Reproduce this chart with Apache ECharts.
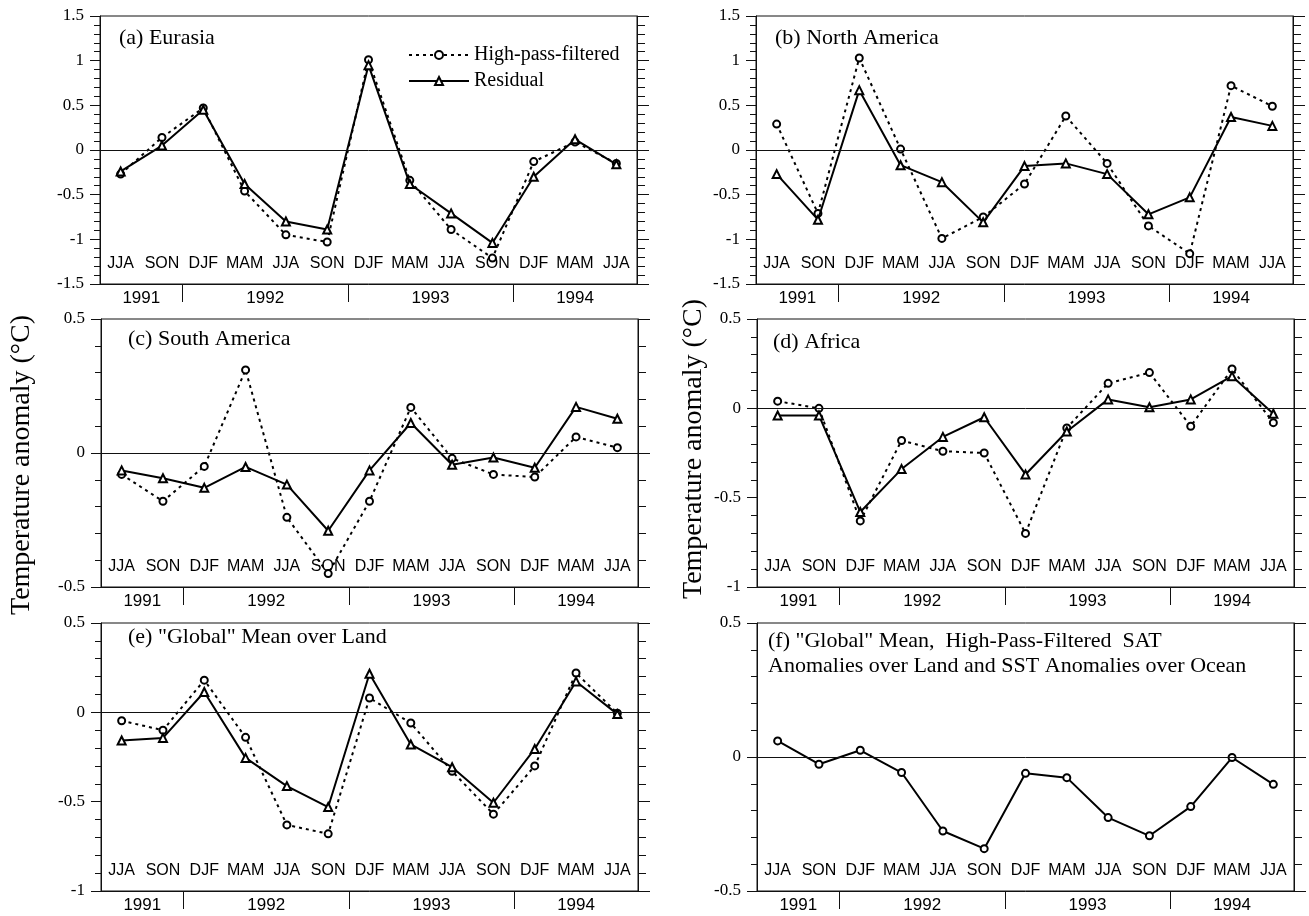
<!DOCTYPE html>
<html><head><meta charset="utf-8">
<script src="https://cdn.jsdelivr.net/npm/echarts@6/dist/echarts.min.js"></script>
<style>html,body{margin:0;padding:0;background:#fff}#c{width:1309px;height:916px}</style>
</head><body><div id="c"></div>
<script>
// ---- data ----
const seasons = ['JJA','SON','DJF','MAM','JJA','SON','DJF','MAM','JJA','SON','DJF','MAM','JJA'];
const years = ['1991','1992','1993','1994'];
const yearBounds = [1.5, 5.5, 9.5];   // season-index boundaries between years
const seriesNames = ['High-pass-filtered','Residual'];

const eurasiaHP  = [-0.27, 0.14, 0.47, -0.46, -0.95, -1.03, 1.01, -0.34, -0.89, -1.21, -0.13, 0.09, -0.15];
const eurasiaRes = [-0.24, 0.05, 0.45, -0.38, -0.80, -0.89, 0.95, -0.38, -0.71, -1.04, -0.30, 0.12, -0.16];

const namerHP  = [0.29, -0.71, 1.03, 0.01, -0.99, -0.75, -0.38, 0.38, -0.15, -0.85, -1.16, 0.72, 0.49];
const namerRes = [-0.27, -0.78, 0.67, -0.17, -0.36, -0.81, -0.18, -0.15, -0.27, -0.72, -0.53, 0.37, 0.27];

const samerHP  = [-0.08, -0.18, -0.05, 0.31, -0.24, -0.45, -0.18, 0.17, -0.02, -0.08, -0.09, 0.06, 0.02];
const samerRes = [-0.065, -0.094, -0.13, -0.052, -0.118, -0.29, -0.065, 0.112, -0.044, -0.017, -0.055, 0.172, 0.128];

const africaHP  = [0.04, 0.0, -0.63, -0.18, -0.24, -0.25, -0.70, -0.11, 0.14, 0.20, -0.10, 0.22, -0.08];
const africaRes = [-0.04, -0.04, -0.58, -0.34, -0.16, -0.05, -0.37, -0.13, 0.05, 0.006, 0.05, 0.18, -0.03];

const landHP  = [-0.047, -0.10, 0.18, -0.14, -0.63, -0.68, 0.08, -0.06, -0.33, -0.57, -0.30, 0.22, -0.005];
const landRes = [-0.158, -0.143, 0.114, -0.255, -0.413, -0.53, 0.216, -0.18, -0.307, -0.506, -0.205, 0.173, -0.01];

const globalSST = [0.06, -0.027, 0.025, -0.058, -0.276, -0.342, -0.061, -0.077, -0.226, -0.294, -0.185, -0.002, -0.102];

const titles = ['(a) Eurasia', '(b) North America', '(c) South America', '(d) Africa',
  '(e) "Global" Mean over Land',
  '(f) "Global" Mean,  High-Pass-Filtered  SAT\nAnomalies over Land and SST Anomalies over Ocean'];
const yAxisTitle = 'Temperature anomaly (°C)';

// ---- layout ----
const SERIF = '"Liberation Serif","DejaVu Serif",serif';
const SANS = '"Liberation Sans",Arial,sans-serif';
const W = 537, H = 268;
const panels = [
  {hp: eurasiaHP, res: eurasiaRes, min: -1.5, max: 1.5, left: 100, top: 16, tx: 119, ty: 26},
  {hp: namerHP, res: namerRes, min: -1.5, max: 1.5, left: 756, top: 16, tx: 775, ty: 26},
  {hp: samerHP, res: samerRes, min: -0.5, max: 0.5, left: 101, top: 319, tx: 128, ty: 327},
  {hp: africaHP, res: africaRes, min: -1, max: 0.5, left: 757, top: 319, tx: 773, ty: 330},
  {hp: landHP, res: landRes, min: -1, max: 0.5, left: 101, top: 623, tx: 128, ty: 625},
  {single: globalSST, min: -0.5, max: 0.5, left: 757, top: 623, tx: 768, ty: 629}
];

const yearEdges = [-0.5].concat(yearBounds, [12.5]);
const yearPos = years.map((y, i) => (yearEdges[i] + yearEdges[i + 1]) / 2);

const grid = [], xAxis = [], yAxis = [], series = [], title = [];
panels.forEach((p, i) => {
  grid.push({left: p.left, top: p.top, width: W, height: H, show: true,
    borderColor: '#111', borderWidth: 1, backgroundColor: 'transparent'});
  xAxis.push({gridIndex: i, type: 'category', data: seasons, boundaryGap: true, position: 'bottom',
    axisLine: {onZero: false, lineStyle: {color: '#111', width: 1}},
    axisTick: {inside: true, alignWithLabel: true, length: 10, interval: 0, lineStyle: {color: '#111'}},
    axisLabel: {inside: true, interval: 0, margin: 12, color: '#000', fontFamily: SANS, fontSize: 16},
    splitLine: {show: false}});
  xAxis.push({gridIndex: i, type: 'value', min: -0.5, max: 12.5, position: 'bottom',
    axisLine: {show: false, onZero: false},
    axisTick: {show: true, customValues: yearBounds, length: 18, lineStyle: {color: '#111'}},
    axisLabel: {show: true, customValues: yearPos, margin: 6, color: '#000', fontFamily: SANS, fontSize: 17,
      formatter: v => { const k = yearPos.findIndex(q => Math.abs(q - v) < 1e-6); return k >= 0 ? years[k] : ''; }},
    splitLine: {show: false}});
  yAxis.push({gridIndex: i, type: 'value', min: p.min, max: p.max, interval: 0.5, position: 'left',
    axisLine: {show: true, onZero: false, lineStyle: {color: '#111'}},
    axisTick: {show: true, length: 10, lineStyle: {color: '#111'}},
    minorTick: {show: true, splitNumber: 5, length: 6, lineStyle: {color: '#111'}},
    axisLabel: {color: '#000', fontFamily: SERIF, fontSize: 17, margin: 16},
    splitLine: {show: false}});
  yAxis.push({gridIndex: i, type: 'value', min: p.min, max: p.max, interval: 0.5, position: 'right',
    axisLine: {show: true, onZero: false, lineStyle: {color: '#111'}},
    axisTick: {show: true, length: 12, lineStyle: {color: '#111'}},
    minorTick: {show: true, splitNumber: 5, length: 8, lineStyle: {color: '#111'}},
    axisLabel: {show: false}, splitLine: {show: false}});
  const zero = {silent: true, symbol: 'none', label: {show: false},
    lineStyle: {color: '#111', width: 1, type: 'solid'}, data: [{yAxis: 0}]};
  if (p.single) {
    series.push({type: 'line', name: 'Global', xAxisIndex: 2 * i, yAxisIndex: 2 * i, data: p.single,
      symbol: 'emptyCircle', symbolSize: 7, lineStyle: {color: '#000', width: 2},
      itemStyle: {color: '#000', borderWidth: 1}, markLine: zero, z: 3});
  } else {
    series.push({type: 'line', name: seriesNames[0], xAxisIndex: 2 * i, yAxisIndex: 2 * i, data: p.hp,
      symbol: 'emptyCircle', symbolSize: 7, lineStyle: {color: '#000', width: 2, type: [3, 4]},
      itemStyle: {color: '#000', borderWidth: 1}, markLine: zero, z: 3});
    series.push({type: 'line', name: seriesNames[1], xAxisIndex: 2 * i, yAxisIndex: 2 * i, data: p.res,
      symbol: 'emptyTriangle', symbolSize: 8, lineStyle: {color: '#000', width: 2},
      itemStyle: {color: '#000', borderWidth: 1}, z: 4});
  }
  title.push({text: titles[i], left: p.tx, top: p.ty, padding: 0,
    textStyle: {fontFamily: SERIF, fontSize: 22, fontWeight: 'normal', color: '#000', lineHeight: 25}});
});

const chart = echarts.init(document.getElementById('c'), null, {renderer: 'canvas'});
chart.setOption({
  animation: false,
  backgroundColor: '#fff',
  title,
  grid, xAxis, yAxis, series,
  legend: {data: seriesNames, orient: 'vertical', left: 408, top: 45, itemWidth: 60, itemHeight: 10,
    itemGap: 6, selectedMode: false, padding: 0,
    textStyle: {fontFamily: SERIF, fontSize: 20, color: '#000', lineHeight: 20}},
  graphic: [
    {type: 'text', x: 22, y: 465, rotation: Math.PI / 2,
      style: {text: yAxisTitle, font: '28px ' + SERIF, fill: '#000', align: 'center', verticalAlign: 'middle'}},
    {type: 'text', x: 694, y: 449, rotation: Math.PI / 2,
      style: {text: yAxisTitle, font: '28px ' + SERIF, fill: '#000', align: 'center', verticalAlign: 'middle'}}
  ]
});
</script></body></html>
